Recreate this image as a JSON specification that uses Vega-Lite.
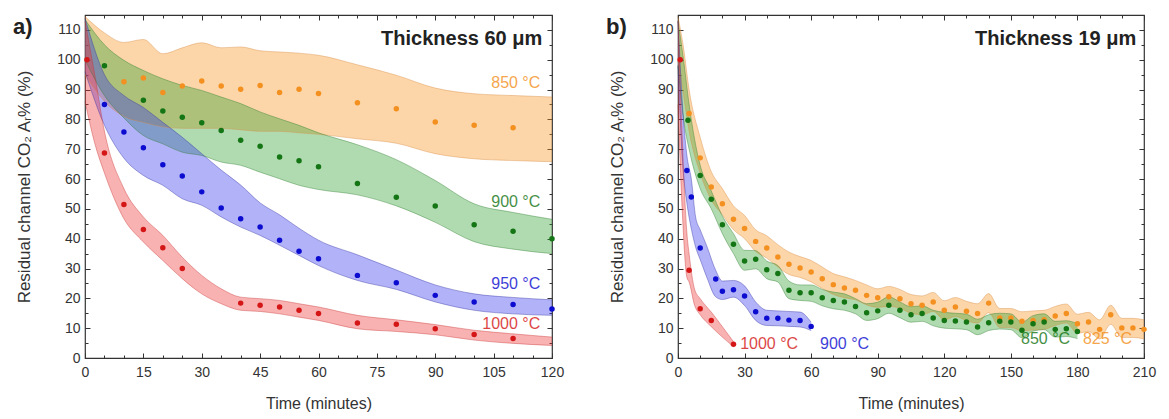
{
"$schema": "https://vega.github.io/schema/vega-lite/v6.json",
"padding": {"left": 12, "top": 13, "right": 20, "bottom": 4},
"spacing": 40,
"config": {
 "font": "Liberation Sans",
 "view": {"stroke": "#333", "strokeWidth": 1.2},
 "axis": {"grid": false, "domain": false, "labelFont": "Liberation Sans", "labelFontSize": 14, "labelColor": "#333", "tickColor": "#333", "tickWidth": 1, "tickSize": -5, "titleFont": "Liberation Sans", "titleFontSize": 16, "titleFontWeight": "normal", "titleColor": "#333", "labelFlush": false, "labelOverlap": false}
},
"datasets": {
 "bandA": [
  {"c":"o","t":0,"lo":95,"hi":114.5},{"c":"o","t":5,"lo":86,"hi":109},{"c":"o","t":10,"lo":81,"hi":105.8},{"c":"o","t":15,"lo":79,"hi":106.8},{"c":"o","t":20,"lo":77.5,"hi":102},{"c":"o","t":25,"lo":77,"hi":104},{"c":"o","t":30,"lo":77,"hi":105.7},{"c":"o","t":35,"lo":77,"hi":104},{"c":"o","t":40,"lo":76.5,"hi":104.3},{"c":"o","t":45,"lo":76,"hi":103},{"c":"o","t":50,"lo":76,"hi":102.6},{"c":"o","t":55,"lo":75.5,"hi":102.2},{"c":"o","t":60,"lo":75,"hi":101.5},{"c":"o","t":70,"lo":73.5,"hi":98.3},{"c":"o","t":80,"lo":72,"hi":94.8},{"c":"o","t":90,"lo":68.5,"hi":90.5},{"c":"o","t":100,"lo":66.8,"hi":88.6},{"c":"o","t":110,"lo":66.2,"hi":88},{"c":"o","t":120,"lo":65.8,"hi":87.5},
  {"c":"g","t":0,"lo":100,"hi":113.5},{"c":"g","t":5,"lo":88,"hi":105},{"c":"g","t":10,"lo":80.5,"hi":99.8},{"c":"g","t":15,"lo":74.6,"hi":96.4},{"c":"g","t":20,"lo":71.8,"hi":93.6},{"c":"g","t":25,"lo":69,"hi":91.4},{"c":"g","t":30,"lo":67.9,"hi":89.7},{"c":"g","t":35,"lo":65.7,"hi":87.5},{"c":"g","t":40,"lo":64.6,"hi":85.3},{"c":"g","t":45,"lo":62.3,"hi":82.5},{"c":"g","t":50,"lo":60.1,"hi":80.2},{"c":"g","t":55,"lo":57.9,"hi":78},{"c":"g","t":60,"lo":56.5,"hi":75.5},{"c":"g","t":70,"lo":54.7,"hi":71.5},{"c":"g","t":80,"lo":51,"hi":66.5},{"c":"g","t":90,"lo":45.5,"hi":59.5},{"c":"g","t":100,"lo":39,"hi":51.7},{"c":"g","t":110,"lo":36.5,"hi":48.8},{"c":"g","t":120,"lo":35,"hi":46.5},
  {"c":"b","t":0,"lo":96,"hi":114},{"c":"b","t":5,"lo":78,"hi":95},{"c":"b","t":10,"lo":67,"hi":88},{"c":"b","t":15,"lo":61.2,"hi":84},{"c":"b","t":20,"lo":57.9,"hi":79},{"c":"b","t":25,"lo":53.4,"hi":74},{"c":"b","t":30,"lo":51.2,"hi":68.5},{"c":"b","t":35,"lo":47.3,"hi":63},{"c":"b","t":40,"lo":43.9,"hi":58},{"c":"b","t":45,"lo":41.1,"hi":52},{"c":"b","t":50,"lo":37.8,"hi":48},{"c":"b","t":55,"lo":34.4,"hi":43.5},{"c":"b","t":60,"lo":31,"hi":39.5},{"c":"b","t":70,"lo":26,"hi":34.6},{"c":"b","t":80,"lo":23,"hi":29.5},{"c":"b","t":90,"lo":18.8,"hi":24.5},{"c":"b","t":100,"lo":16,"hi":21.5},{"c":"b","t":110,"lo":14.8,"hi":20.3},{"c":"b","t":120,"lo":14.3,"hi":19.5},
  {"c":"r","t":0,"lo":86,"hi":113},{"c":"r","t":2.5,"lo":72,"hi":95},{"c":"r","t":5,"lo":62,"hi":76},{"c":"r","t":10,"lo":46.7,"hi":56.8},{"c":"r","t":15,"lo":38.9,"hi":47.3},{"c":"r","t":20,"lo":32.7,"hi":41.1},{"c":"r","t":25,"lo":26.6,"hi":33.8},{"c":"r","t":30,"lo":21.5,"hi":27.7},{"c":"r","t":35,"lo":18.2,"hi":23.2},{"c":"r","t":40,"lo":16,"hi":20.4},{"c":"r","t":45,"lo":15.6,"hi":19.9},{"c":"r","t":50,"lo":14.8,"hi":19.3},{"c":"r","t":55,"lo":13.7,"hi":18.2},{"c":"r","t":60,"lo":12.6,"hi":17.1},{"c":"r","t":70,"lo":9.8,"hi":14.3},{"c":"r","t":80,"lo":8.9,"hi":12.8},{"c":"r","t":90,"lo":7.8,"hi":11.2},{"c":"r","t":100,"lo":6,"hi":9.3},{"c":"r","t":110,"lo":4.9,"hi":8.1},{"c":"r","t":120,"lo":4.2,"hi":7}
 ],
 "ptsA": [
  {"c":"o","t":10,"v":92.6},{"c":"o","t":15,"v":93.9},{"c":"o","t":20,"v":89},{"c":"o","t":25,"v":91.2},{"c":"o","t":30,"v":92.9},{"c":"o","t":35,"v":91.2},{"c":"o","t":40,"v":90.1},{"c":"o","t":45,"v":91.4},{"c":"o","t":50,"v":89},{"c":"o","t":55,"v":90.1},{"c":"o","t":60,"v":88.7},{"c":"o","t":70,"v":85.6},{"c":"o","t":80,"v":83.6},{"c":"o","t":90,"v":79.1},{"c":"o","t":100,"v":78},{"c":"o","t":110,"v":77.2},
  {"c":"g","t":5,"v":98},{"c":"g","t":15,"v":86.4},{"c":"g","t":20,"v":82.8},{"c":"g","t":25,"v":80.7},{"c":"g","t":30,"v":78.9},{"c":"g","t":35,"v":76.3},{"c":"g","t":40,"v":73},{"c":"g","t":45,"v":71},{"c":"g","t":50,"v":67.4},{"c":"g","t":55,"v":66.1},{"c":"g","t":60,"v":64.1},{"c":"g","t":70,"v":58.5},{"c":"g","t":80,"v":53.9},{"c":"g","t":90,"v":51},{"c":"g","t":100,"v":44.7},{"c":"g","t":110,"v":42.5},{"c":"g","t":120,"v":40},
  {"c":"b","t":5,"v":85},{"c":"b","t":10,"v":75.8},{"c":"b","t":15,"v":70.5},{"c":"b","t":20,"v":64.8},{"c":"b","t":25,"v":61},{"c":"b","t":30,"v":55.7},{"c":"b","t":35,"v":50.3},{"c":"b","t":40,"v":46.7},{"c":"b","t":45,"v":43.9},{"c":"b","t":50,"v":39.5},{"c":"b","t":55,"v":35.8},{"c":"b","t":60,"v":33.3},{"c":"b","t":70,"v":27.7},{"c":"b","t":80,"v":25.2},{"c":"b","t":90,"v":21},{"c":"b","t":100,"v":18.8},{"c":"b","t":110,"v":17.9},{"c":"b","t":120,"v":16.4},
  {"c":"r","t":0.5,"v":100},{"c":"r","t":5,"v":68.7},{"c":"r","t":10,"v":51.5},{"c":"r","t":15,"v":43.1},{"c":"r","t":20,"v":37},{"c":"r","t":25,"v":30},{"c":"r","t":40,"v":18.4},{"c":"r","t":45,"v":17.7},{"c":"r","t":50,"v":17.1},{"c":"r","t":55,"v":16},{"c":"r","t":60,"v":14.9},{"c":"r","t":70,"v":11.7},{"c":"r","t":80,"v":11.3},{"c":"r","t":90,"v":9.8},{"c":"r","t":100,"v":7.9},{"c":"r","t":110,"v":6.5}
 ],
 "bandB": [
  {"c":"o","t":0,"lo":100,"hi":114.5},{"c":"o","t":2.5,"lo":88,"hi":104},{"c":"o","t":5,"lo":76,"hi":90},{"c":"o","t":10,"lo":62,"hi":74},{"c":"o","t":15,"lo":53,"hi":62.5},{"c":"o","t":20,"lo":48,"hi":56.8},{"c":"o","t":25,"lo":43,"hi":51},{"c":"o","t":30,"lo":40,"hi":47.8},{"c":"o","t":35,"lo":35.7,"hi":43},{"c":"o","t":40,"lo":33.5,"hi":41},{"c":"o","t":45,"lo":30.5,"hi":38},{"c":"o","t":50,"lo":28,"hi":35.5},{"c":"o","t":55,"lo":27,"hi":34},{"c":"o","t":60,"lo":25.5,"hi":32.7},{"c":"o","t":65,"lo":23.3,"hi":30.5},{"c":"o","t":70,"lo":21.3,"hi":28.3},{"c":"o","t":75,"lo":20.2,"hi":27.2},{"c":"o","t":80,"lo":19.5,"hi":26},{"c":"o","t":85,"lo":17.8,"hi":24.5},{"c":"o","t":90,"lo":17,"hi":23.2},{"c":"o","t":95,"lo":17.3,"hi":24},{"c":"o","t":100,"lo":16.7,"hi":23},{"c":"o","t":105,"lo":15,"hi":21.3},{"c":"o","t":110,"lo":14.5,"hi":20.8},{"c":"o","t":115,"lo":15.6,"hi":22},{"c":"o","t":120,"lo":12.8,"hi":19.2},{"c":"o","t":125,"lo":13.9,"hi":20.3},{"c":"o","t":130,"lo":12.5,"hi":19},{"c":"o","t":135,"lo":11.7,"hi":18.2},{"c":"o","t":140,"lo":15.2,"hi":21.6},{"c":"o","t":145,"lo":10.2,"hi":16.6},{"c":"o","t":150,"lo":10.2,"hi":16.6},{"c":"o","t":155,"lo":9.1,"hi":15.5},{"c":"o","t":160,"lo":9.4,"hi":15.8},{"c":"o","t":165,"lo":9.6,"hi":16},{"c":"o","t":170,"lo":10.9,"hi":17.3},{"c":"o","t":175,"lo":11.7,"hi":18.1},{"c":"o","t":180,"lo":8.3,"hi":14.7},{"c":"o","t":185,"lo":8.9,"hi":15.3},{"c":"o","t":190,"lo":6.4,"hi":12.8},{"c":"o","t":195,"lo":11.3,"hi":17.7},{"c":"o","t":200,"lo":6.9,"hi":13.3},{"c":"o","t":205,"lo":6.9,"hi":13.3},{"c":"o","t":210,"lo":6.4,"hi":12.8},
  {"c":"g","t":0,"lo":98,"hi":113},{"c":"g","t":2.5,"lo":80,"hi":100},{"c":"g","t":5,"lo":70,"hi":85},{"c":"g","t":10,"lo":56.8,"hi":64.6},{"c":"g","t":15,"lo":50,"hi":56},{"c":"g","t":20,"lo":41.7,"hi":47.6},{"c":"g","t":25,"lo":35,"hi":41.7},{"c":"g","t":30,"lo":29.4,"hi":36.1},{"c":"g","t":35,"lo":29.9,"hi":36},{"c":"g","t":40,"lo":26.6,"hi":32.5},{"c":"g","t":45,"lo":25.5,"hi":31},{"c":"g","t":50,"lo":19.9,"hi":25.8},{"c":"g","t":55,"lo":19.3,"hi":24.5},{"c":"g","t":60,"lo":19,"hi":24.5},{"c":"g","t":65,"lo":17.5,"hi":23},{"c":"g","t":70,"lo":16.5,"hi":22.1},{"c":"g","t":75,"lo":16,"hi":21.5},{"c":"g","t":80,"lo":14.8,"hi":19.9},{"c":"g","t":85,"lo":12.6,"hi":18.2},{"c":"g","t":90,"lo":13.2,"hi":18.7},{"c":"g","t":95,"lo":15,"hi":20.5},{"c":"g","t":100,"lo":13.5,"hi":18.8},{"c":"g","t":105,"lo":12,"hi":17.2},{"c":"g","t":110,"lo":12.3,"hi":17.5},{"c":"g","t":115,"lo":10.8,"hi":16},{"c":"g","t":120,"lo":10,"hi":15.3},{"c":"g","t":125,"lo":9.8,"hi":15},{"c":"g","t":130,"lo":9.5,"hi":14.7},{"c":"g","t":135,"lo":7.8,"hi":13},{"c":"g","t":140,"lo":9.2,"hi":14.5},{"c":"g","t":145,"lo":9.7,"hi":15},{"c":"g","t":150,"lo":9.5,"hi":14.8},{"c":"g","t":155,"lo":6.8,"hi":12},{"c":"g","t":160,"lo":9,"hi":14.2},{"c":"g","t":165,"lo":9.5,"hi":14.8},{"c":"g","t":170,"lo":7,"hi":12.3},{"c":"g","t":175,"lo":7.2,"hi":12.5},{"c":"g","t":180,"lo":6.5,"hi":11.5},
  {"c":"b","t":0,"lo":98,"hi":113},{"c":"b","t":2,"lo":66,"hi":85},{"c":"b","t":4,"lo":52,"hi":68},{"c":"b","t":6,"lo":43.3,"hi":60},{"c":"b","t":8,"lo":37,"hi":47},{"c":"b","t":10,"lo":33,"hi":43},{"c":"b","t":13,"lo":27,"hi":37.5},{"c":"b","t":17,"lo":20.5,"hi":29.4},{"c":"b","t":20,"lo":19.6,"hi":25.8},{"c":"b","t":25,"lo":20.4,"hi":26},{"c":"b","t":30,"lo":17.6,"hi":24.2},{"c":"b","t":35,"lo":12.6,"hi":18.8},{"c":"b","t":40,"lo":10.9,"hi":16},{"c":"b","t":45,"lo":10.8,"hi":15.8},{"c":"b","t":50,"lo":10.6,"hi":15.6},{"c":"b","t":55,"lo":10.4,"hi":15.4},{"c":"b","t":60,"lo":9.2,"hi":12},
  {"c":"r","t":0,"lo":85,"hi":113},{"c":"r","t":2,"lo":48,"hi":72},{"c":"r","t":4,"lo":27,"hi":42},{"c":"r","t":5,"lo":25.5,"hi":35},{"c":"r","t":7.5,"lo":17.6,"hi":23},{"c":"r","t":10,"lo":14.5,"hi":19.9},{"c":"r","t":15,"lo":10.5,"hi":15.4},{"c":"r","t":20,"lo":7,"hi":10.5},{"c":"r","t":25,"lo":3.8,"hi":5.5}
 ],
 "ptsB": [
  {"c":"o","t":5,"v":82},{"c":"o","t":10,"v":67.1},{"c":"o","t":15,"v":57.3},{"c":"o","t":20,"v":51.7},{"c":"o","t":25,"v":46.5},{"c":"o","t":30,"v":43.4},{"c":"o","t":35,"v":39.1},{"c":"o","t":40,"v":36.9},{"c":"o","t":45,"v":33.9},{"c":"o","t":50,"v":31.4},{"c":"o","t":55,"v":30.2},{"c":"o","t":60,"v":28.8},{"c":"o","t":65,"v":26.6},{"c":"o","t":70,"v":24.6},{"c":"o","t":75,"v":23.5},{"c":"o","t":80,"v":22.7},{"c":"o","t":85,"v":21},{"c":"o","t":90,"v":20.2},{"c":"o","t":95,"v":20.5},{"c":"o","t":100,"v":19.9},{"c":"o","t":105,"v":18.2},{"c":"o","t":110,"v":17.7},{"c":"o","t":115,"v":18.8},{"c":"o","t":120,"v":16},{"c":"o","t":125,"v":17.1},{"c":"o","t":130,"v":15.7},{"c":"o","t":135,"v":14.9},{"c":"o","t":140,"v":18.4},{"c":"o","t":145,"v":13.4},{"c":"o","t":150,"v":13.4},{"c":"o","t":155,"v":12.3},{"c":"o","t":160,"v":12.6},{"c":"o","t":165,"v":12.8},{"c":"o","t":170,"v":14.1},{"c":"o","t":175,"v":14.9},{"c":"o","t":180,"v":11.5},{"c":"o","t":185,"v":12.1},{"c":"o","t":190,"v":9.6},{"c":"o","t":195,"v":14.5},{"c":"o","t":200,"v":10.1},{"c":"o","t":205,"v":10.1},{"c":"o","t":210,"v":9.6},
  {"c":"g","t":4.5,"v":79.7},{"c":"g","t":10,"v":61.2},{"c":"g","t":15,"v":53.2},{"c":"g","t":20,"v":44.7},{"c":"g","t":25,"v":38.1},{"c":"g","t":30,"v":32.5},{"c":"g","t":35,"v":33.1},{"c":"g","t":40,"v":29.6},{"c":"g","t":45,"v":28.3},{"c":"g","t":50,"v":22.7},{"c":"g","t":55,"v":21.9},{"c":"g","t":60,"v":21.9},{"c":"g","t":65,"v":20.2},{"c":"g","t":70,"v":19.3},{"c":"g","t":75,"v":18.8},{"c":"g","t":80,"v":17.3},{"c":"g","t":85,"v":15.2},{"c":"g","t":90,"v":15.8},{"c":"g","t":95,"v":17.7},{"c":"g","t":100,"v":16},{"c":"g","t":105,"v":14.5},{"c":"g","t":110,"v":14.9},{"c":"g","t":115,"v":13.4},{"c":"g","t":120,"v":12.6},{"c":"g","t":125,"v":12.4},{"c":"g","t":130,"v":12.1},{"c":"g","t":135,"v":10.4},{"c":"g","t":140,"v":11.8},{"c":"g","t":145,"v":12.3},{"c":"g","t":150,"v":12.1},{"c":"g","t":155,"v":9.3},{"c":"g","t":160,"v":11.5},{"c":"g","t":165,"v":12.1},{"c":"g","t":170,"v":9.6},{"c":"g","t":175,"v":9.8},{"c":"g","t":180,"v":8.9},
  {"c":"b","t":4,"v":62.9},{"c":"b","t":6,"v":54},{"c":"b","t":10,"v":36.9},{"c":"b","t":17,"v":26.5},{"c":"b","t":20,"v":22.4},{"c":"b","t":25,"v":22.9},{"c":"b","t":30,"v":20.8},{"c":"b","t":35,"v":15.5},{"c":"b","t":40,"v":13.3},{"c":"b","t":45,"v":13.3},{"c":"b","t":50,"v":12.7},{"c":"b","t":55,"v":12.6},{"c":"b","t":60,"v":10.6},
  {"c":"r","t":1,"v":100},{"c":"r","t":5,"v":29.4},{"c":"r","t":10,"v":16.5},{"c":"r","t":15,"v":12.6},{"c":"r","t":25,"v":4.6}
 ],
 "labA": [{"c":"o","t":117,"v":92.2,"txt":"850 °C"},{"c":"g","t":117,"v":52.3,"txt":"900 °C"},{"c":"b","t":117,"v":24.8,"txt":"950 °C"},{"c":"r","t":117,"v":11.4,"txt":"1000 °C"}],
 "labB": [{"c":"r","t":28,"v":4.7,"txt":"1000 °C"},{"c":"b","t":64,"v":4.7,"txt":"900 °C"},{"c":"g","t":154.6,"v":6.4,"txt":"850 °C"},{"c":"o","t":182.5,"v":6.4,"txt":"825 °C"}],
 "headA": [{"t":117.5,"v":107,"txt":"Thickness 60 μm"}],
 "headB": [{"t":206.5,"v":107,"txt":"Thickness 19 μm"}],
 "tagA": [{"t":-18.5,"v":111,"txt":"a)"}],
 "tagB": [{"t":-32.4,"v":111,"txt":"b)"}]
},
"hconcat": [
 {
  "width": 467, "height": 343,
  "resolve": {"axis": {"x": "independent", "y": "independent"}},
  "layer": [
   {"data": {"name": "bandA"},
    "mark": {"type": "area", "fillOpacity": 0.38, "interpolate": "monotone"},
    "encoding": {
     "x": {"field": "t", "type": "quantitative", "scale": {"domain": [0, 120], "nice": false, "zero": false}, "axis": {"orient": "bottom", "values": [0,15,30,45,60,75,90,105,120], "title": "Time (minutes)", "labelPadding": 12, "titlePadding": 16}},
     "y": {"field": "lo", "type": "quantitative", "scale": {"domain": [0, 115], "nice": false}, "axis": {"orient": "left", "values": [0,10,20,30,40,50,60,70,80,90,100,110], "title": "Residual channel CO₂ Aᵣ% (%)", "titleFontSize": 17, "labelPadding": 10, "titlePadding": 23}},
     "y2": {"field": "hi"},
     "fill": {"field": "c", "type": "nominal", "scale": {"domain": ["o","g","b","r"], "range": ["#f7941d","#30a030","#3434f0","#f03434"]}, "legend": null}
    }},
   {"data": {"name": "bandA"},
    "mark": {"type": "line", "strokeWidth": 0.8, "strokeOpacity": 0.5, "interpolate": "monotone"},
    "encoding": {
     "x": {"field": "t", "type": "quantitative", "scale": {"domain": [0, 120], "nice": false, "zero": false}, "axis": {"orient": "bottom", "values": [5,10,20,25,35,40,50,55,65,70,80,85,95,100,110,115], "labels": false, "tickSize": -3, "title": null}},
     "y": {"field": "lo", "type": "quantitative", "axis": {"orient": "left", "values": [5,15,25,35,45,55,65,75,85,95,105], "labels": false, "tickSize": -3, "title": null}},
     "stroke": {"field": "c", "type": "nominal", "scale": {"domain": ["o","g","b","r"], "range": ["#d88a40","#2a7a2a","#3030a0","#c83030"]}, "legend": null}
    }},
   {"data": {"name": "bandA"},
    "mark": {"type": "line", "strokeWidth": 0.8, "strokeOpacity": 0.5, "interpolate": "monotone"},
    "encoding": {
     "x": {"field": "t", "type": "quantitative", "axis": {"orient": "top", "values": [0,15,30,45,60,75,90,105,120], "labels": false, "title": null}},
     "y": {"field": "hi", "type": "quantitative", "axis": {"orient": "right", "values": [0,10,20,30,40,50,60,70,80,90,100,110], "labels": false, "title": null}},
     "stroke": {"field": "c", "type": "nominal", "legend": null}
    }},
   {"data": {"name": "ptsA"},
    "mark": {"type": "circle", "size": 30, "opacity": 1},
    "encoding": {
     "x": {"field": "t", "type": "quantitative", "axis": {"orient": "top", "values": [5,10,20,25,35,40,50,55,65,70,80,85,95,100,110,115], "labels": false, "tickSize": -3, "title": null}},
     "y": {"field": "v", "type": "quantitative", "axis": {"orient": "right", "values": [5,15,25,35,45,55,65,75,85,95,105], "labels": false, "tickSize": -3, "title": null}},
     "color": {"field": "c", "type": "nominal", "scale": {"domain": ["o","g","b","r"], "range": ["#f39020","#137513","#0c0cd0","#d41616"]}, "legend": null}
    }},
   {"data": {"name": "labA"},
    "mark": {"type": "text", "align": "right", "baseline": "middle", "fontSize": 16, "opacity": 0.8},
    "encoding": {
     "x": {"field": "t", "type": "quantitative", "axis": null},
     "y": {"field": "v", "type": "quantitative", "axis": null},
     "text": {"field": "txt"},
     "color": {"field": "c", "type": "nominal", "legend": null}
    }},
   {"data": {"name": "headA"},
    "mark": {"type": "text", "align": "right", "baseline": "middle", "fontSize": 20, "fontWeight": "bold", "color": "#222"},
    "encoding": {
     "x": {"field": "t", "type": "quantitative", "axis": null},
     "y": {"field": "v", "type": "quantitative", "axis": null},
     "text": {"field": "txt"}
    }},
   {"data": {"name": "tagA"},
    "mark": {"type": "text", "align": "left", "baseline": "middle", "fontSize": 22, "fontWeight": "bold", "color": "#222"},
    "encoding": {
     "x": {"field": "t", "type": "quantitative", "axis": null},
     "y": {"field": "v", "type": "quantitative", "axis": null},
     "text": {"field": "txt"}
    }}
  ]
 },
 {
  "width": 466, "height": 343,
  "resolve": {"axis": {"x": "independent", "y": "independent"}},
  "layer": [
   {"data": {"name": "bandB"},
    "mark": {"type": "area", "fillOpacity": 0.38, "interpolate": "monotone"},
    "encoding": {
     "x": {"field": "t", "type": "quantitative", "scale": {"domain": [0, 210], "nice": false, "zero": false}, "axis": {"orient": "bottom", "values": [0,30,60,90,120,150,180,210], "title": "Time (minutes)", "labelPadding": 12, "titlePadding": 16}},
     "y": {"field": "lo", "type": "quantitative", "scale": {"domain": [0, 115], "nice": false}, "axis": {"orient": "left", "values": [0,10,20,30,40,50,60,70,80,90,100,110], "title": "Residual channel CO₂ Aᵣ% (%)", "titleFontSize": 17, "labelPadding": 10, "titlePadding": 23}},
     "y2": {"field": "hi"},
     "fill": {"field": "c", "type": "nominal", "legend": null}
    }},
   {"data": {"name": "bandB"},
    "mark": {"type": "line", "strokeWidth": 0.8, "strokeOpacity": 0.5, "interpolate": "monotone"},
    "encoding": {
     "x": {"field": "t", "type": "quantitative", "scale": {"domain": [0, 210], "nice": false, "zero": false}, "axis": {"orient": "bottom", "values": [10,20,40,50,70,80,100,110,130,140,160,170,190,200], "labels": false, "tickSize": -3, "title": null}},
     "y": {"field": "lo", "type": "quantitative", "axis": {"orient": "left", "values": [5,15,25,35,45,55,65,75,85,95,105], "labels": false, "tickSize": -3, "title": null}},
     "stroke": {"field": "c", "type": "nominal", "legend": null}
    }},
   {"data": {"name": "bandB"},
    "mark": {"type": "line", "strokeWidth": 0.8, "strokeOpacity": 0.5, "interpolate": "monotone"},
    "encoding": {
     "x": {"field": "t", "type": "quantitative", "axis": {"orient": "top", "values": [0,30,60,90,120,150,180,210], "labels": false, "title": null}},
     "y": {"field": "hi", "type": "quantitative", "axis": {"orient": "right", "values": [0,10,20,30,40,50,60,70,80,90,100,110], "labels": false, "title": null}},
     "stroke": {"field": "c", "type": "nominal", "legend": null}
    }},
   {"data": {"name": "ptsB"},
    "mark": {"type": "circle", "size": 30, "opacity": 1},
    "encoding": {
     "x": {"field": "t", "type": "quantitative", "axis": {"orient": "top", "values": [10,20,40,50,70,80,100,110,130,140,160,170,190,200], "labels": false, "tickSize": -3, "title": null}},
     "y": {"field": "v", "type": "quantitative", "axis": {"orient": "right", "values": [5,15,25,35,45,55,65,75,85,95,105], "labels": false, "tickSize": -3, "title": null}},
     "color": {"field": "c", "type": "nominal", "legend": null}
    }},
   {"data": {"name": "labB"},
    "mark": {"type": "text", "align": "left", "baseline": "middle", "fontSize": 16, "opacity": 0.8},
    "encoding": {
     "x": {"field": "t", "type": "quantitative", "axis": null},
     "y": {"field": "v", "type": "quantitative", "axis": null},
     "text": {"field": "txt"},
     "color": {"field": "c", "type": "nominal", "legend": null}
    }},
   {"data": {"name": "headB"},
    "mark": {"type": "text", "align": "right", "baseline": "middle", "fontSize": 20, "fontWeight": "bold", "color": "#222"},
    "encoding": {
     "x": {"field": "t", "type": "quantitative", "axis": null},
     "y": {"field": "v", "type": "quantitative", "axis": null},
     "text": {"field": "txt"}
    }},
   {"data": {"name": "tagB"},
    "mark": {"type": "text", "align": "left", "baseline": "middle", "fontSize": 22, "fontWeight": "bold", "color": "#222"},
    "encoding": {
     "x": {"field": "t", "type": "quantitative", "axis": null},
     "y": {"field": "v", "type": "quantitative", "axis": null},
     "text": {"field": "txt"}
    }}
  ]
 }
]
}
